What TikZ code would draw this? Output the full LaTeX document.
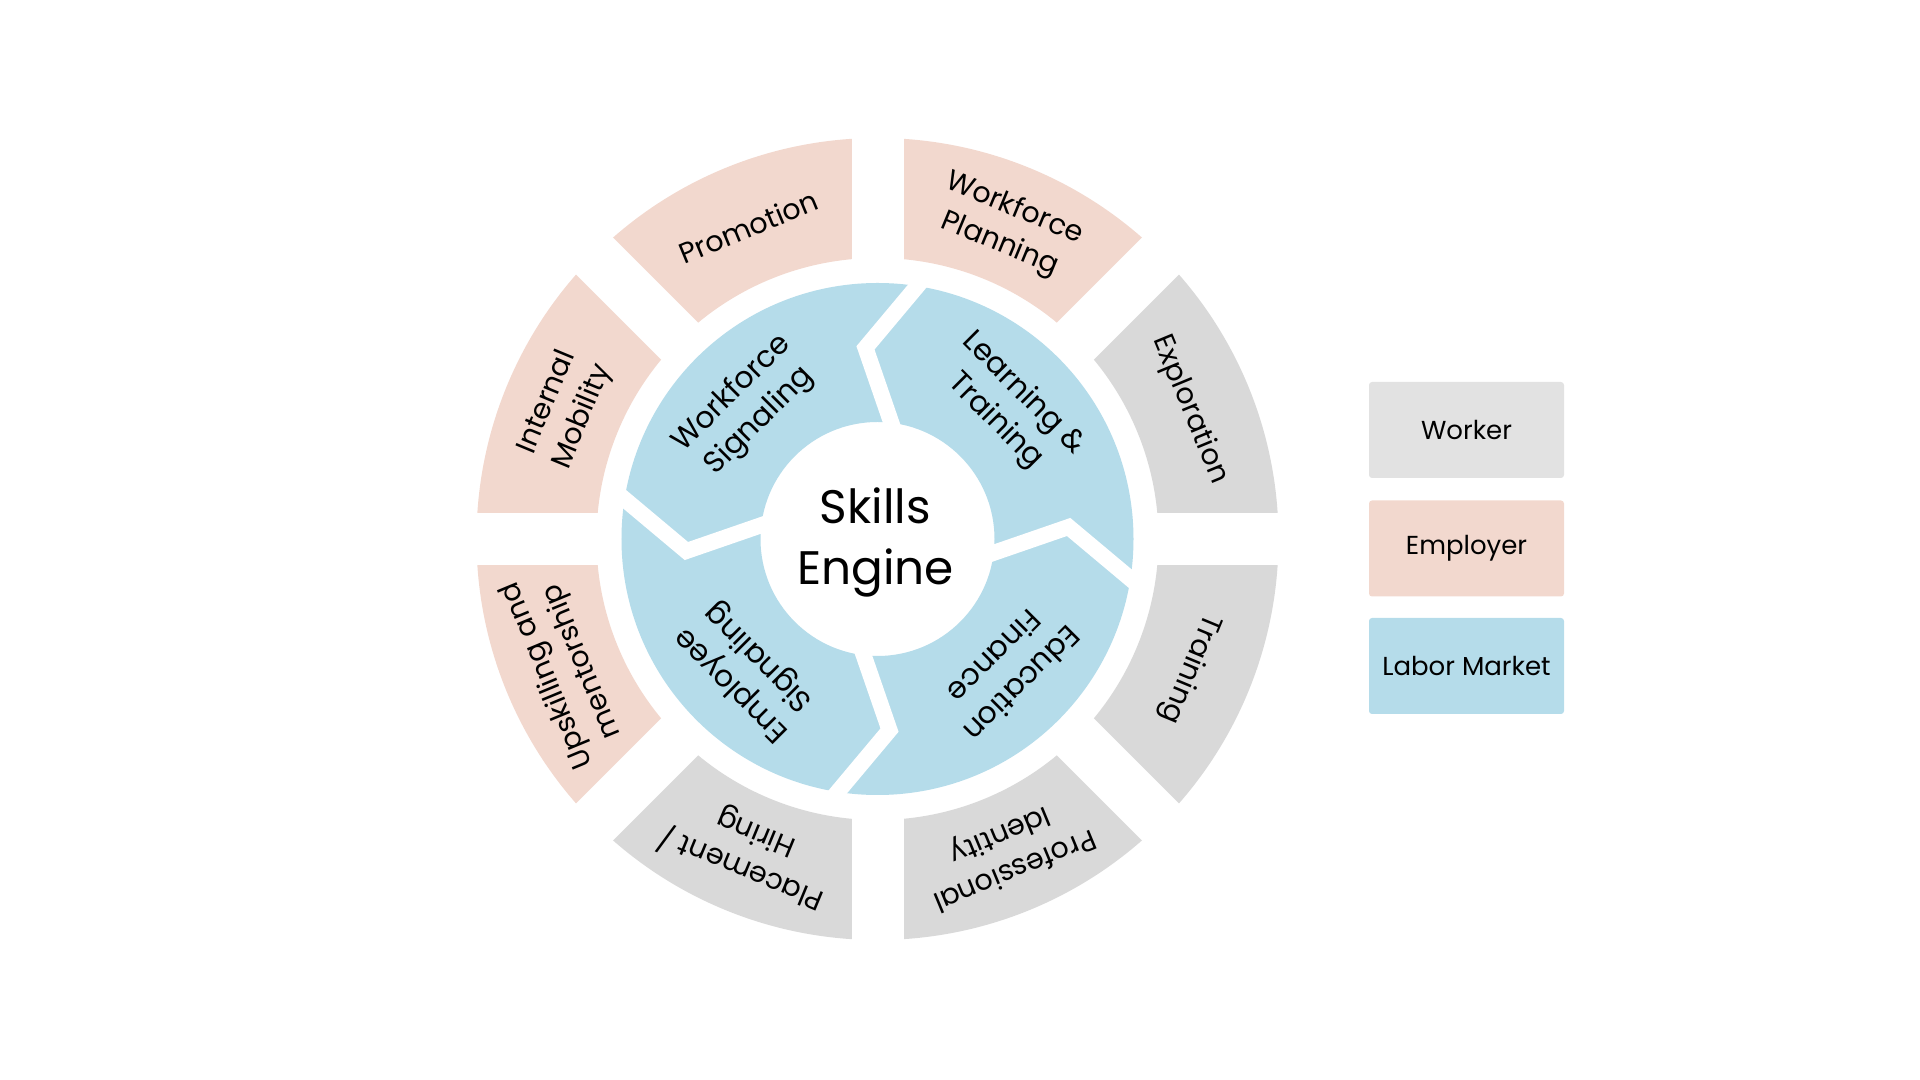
\documentclass[tikz,border=0pt]{standalone}
\usepackage{fontspec}
\setmainfont{Poppins}
\usetikzlibrary{calc}
\definecolor{workergray}{HTML}{D9D9D9}
\definecolor{legendgray}{HTML}{E2E2E2}
\definecolor{employerpink}{HTML}{F2D8CE}
\definecolor{marketblue}{HTML}{B5DCEA}
\begin{document}
\begin{tikzpicture}[x=0.5pt, y=0.5pt,
        ringlabel/.style={align=center, inner sep=0pt, font=\fontsize{14.3}{19}\selectfont},
        hublabel/.style={align=center, inner sep=0pt, font=\fontsize{15}{19.5}\selectfont},
        legendbox/.style={minimum width=97.5pt, minimum height=48pt, inner sep=0pt,
            rounded corners=1.5pt, font=\fontsize{13}{16}\selectfont}]
        \useasboundingbox (-877.5,-541) rectangle (1042.5,539);

        % outer ring
        \foreach \a/\col in {0/workergray, 45/employerpink, 90/employerpink, 135/employerpink,
                180/employerpink, 225/workergray, 270/workergray, 315/workergray}
            \fill[\col] (\a:401) arc[start angle=\a, delta angle=45, radius=401]
                -- (\a+45:281) arc[start angle=\a+45, delta angle=-45, radius=281] -- cycle;
        \foreach \a in {0,45,90,135}
            \draw[white, line width=26pt] (\a:420) -- (\a+180:420);

        % inner ring
        \fill[marketblue, even odd rule] (0,0) circle[radius=256] (0,0) circle[radius=117];
        \foreach \a in {0,90,180,270} {
            \coordinate (cutin) at (\a-6.8:117);
            \coordinate (cuttip) at (\a+3.6:191.5);
            \coordinate (cutout) at (\a-8.8:255);
            \draw[white, line width=8pt, line join=miter]
                ($(cuttip)!1.4!(cutin)$) -- (cuttip) -- ($(cuttip)!1.15!(cutout)$);
        }

        \node[align=center, font=\fontsize{23.5}{30.5}\selectfont] (engine) at (-2,-3) {Skills\\Engine};

        \node[hublabel, rotate=45] (wsignal) at (135:186) {Workforce\\Signaling};
        \node[hublabel, rotate=-45] (learning) at (45:186) {Learning \&\\Training};
        \node[hublabel, rotate=-135] (finance) at (-45:186) {Education\\Finance};
        \node[hublabel, rotate=135] (esignal) at (225:186) {Employee\\Signaling};

        \node[ringlabel, rotate=-67.5] (explore) at (22.5:338) {Exploration};
        \node[ringlabel, rotate=-22.5] (planning) at (67.5:338) {Workforce\\Planning};
        \node[ringlabel, rotate=22.5] (promote) at (112.5:338) {Promotion};
        \node[ringlabel, rotate=67.5] (mobility) at (157.5:338) {Internal\\Mobility};
        \node[ringlabel, rotate=112.5] (upskill) at (202.5:338) {Upskilling and\\mentorship};
        \node[ringlabel, rotate=157.5] (hiring) at (247.5:338) {Placement /\\Hiring};
        \node[ringlabel, rotate=202.5] (identity) at (292.5:338) {Professional\\Identity};
        \node[ringlabel, rotate=247.5] (training) at (337.5:338) {Training};

        % legend
        \node[legendbox, fill=legendgray] (worker) at (589,109) {Worker};
        \node[legendbox, fill=employerpink] (employer) at (589,-9.5) {Employer};
        \node[legendbox, fill=marketblue] (market) at (589,-127) {Labor Market};
    \end{tikzpicture}
\end{document}
